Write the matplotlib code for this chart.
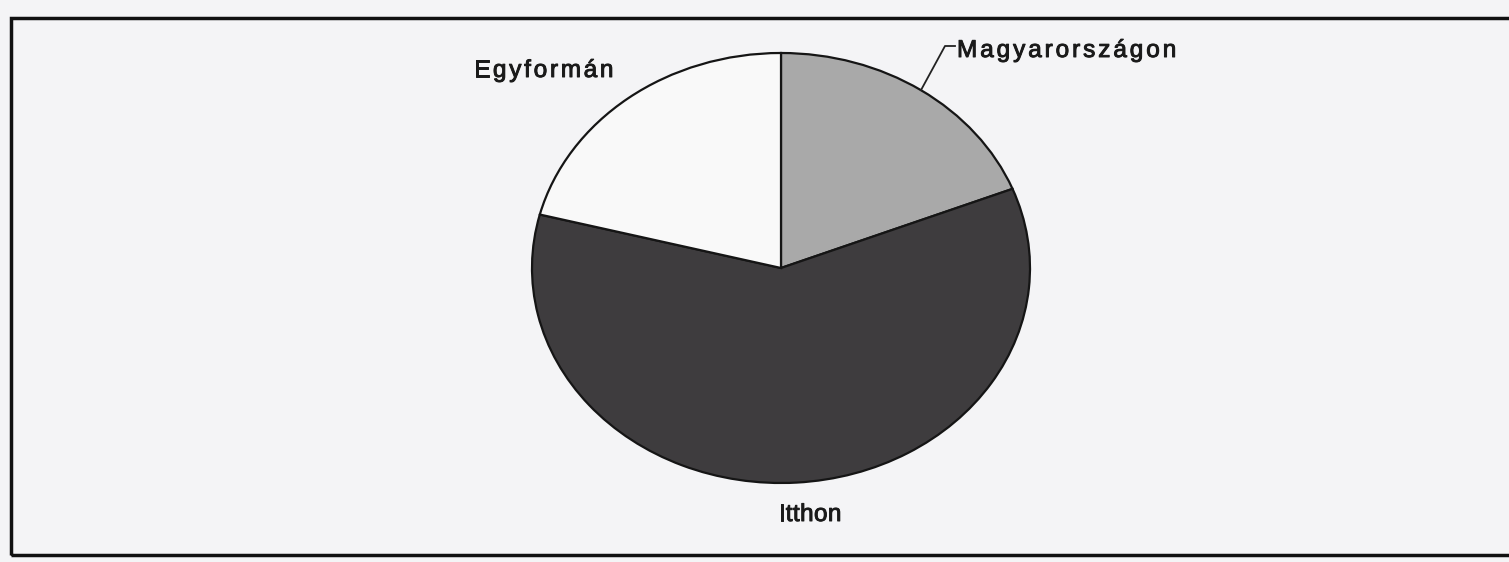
import numpy as np
import matplotlib
matplotlib.use("Agg")
import matplotlib.pyplot as plt
import matplotlib.patheffects as pe
from matplotlib.patches import Rectangle
from matplotlib.lines import Line2D
from matplotlib.font_manager import FontProperties

plt.rcParams['font.family'] = ['Liberation Sans', 'DejaVu Sans']

# data (shares, %)
labels = ["Magyarországon", "Itthon", "Egyformán"]
shares = [19, 60, 21]
colors = ["#a9a9a9", "#3e3c3e", "#f9f9f9"]

W, H = 1509, 562
fig = plt.figure(figsize=(W / 100, H / 100), dpi=100)
fig.patch.set_facecolor("#f4f4f6")

# outer frame (runs off the right side of the scan)
fig.patches.append(Rectangle((11 / W, (H - 555) / H), 1.2, (555 - 18) / H,
                             transform=fig.transFigure, fill=False,
                             edgecolor="#111111", linewidth=2.5))

# pie drawn as a flattened ellipse
cx, cy, rx, ry = 781, 268, 249, 215
ax = fig.add_axes([(cx - rx) / W, (H - cy - ry) / H, 2 * rx / W, 2 * ry / H])
wedges, _ = ax.pie(shares, colors=colors, startangle=90, counterclock=False,
                   radius=1, wedgeprops=dict(edgecolor="#151515", linewidth=1.6))
ax.set_xlim(-1, 1)
ax.set_ylim(-1, 1)
ax.set_aspect("auto")
ax.axis("off")

fp = FontProperties(family=['Liberation Sans'], size=17.5)
fig.canvas.draw()
renderer = fig.canvas.get_renderer()
thick = [pe.withStroke(linewidth=0.7, foreground="#1a1a1a")]


def spaced_text(x, y, s, sp, center=False):
    # the scan's labels are letter-spaced, so place glyph by glyph
    widths = [renderer.get_text_width_height_descent(s[:i], fp, ismath=False)[0]
              if i else 0 for i in range(len(s) + 1)]
    total = widths[-1] + sp * (len(s) - 1)
    if center:
        x = x - total / 2
    for i, ch in enumerate(s):
        fig.text(x + widths[i] + sp * i, y, ch, transform=None,
                 fontproperties=fp, ha="left", va="baseline", color="#1a1a1a",
                 path_effects=thick)


# Magyarországon: leader line to the middle of its wedge
w = wedges[0]
mid = np.deg2rad((w.theta1 + w.theta2) / 2)
px, py = ax.transData.transform((np.cos(mid), np.sin(mid)))
tx, ty = 955, H - 46
fig.add_artist(Line2D([tx, tx - 10, px], [ty, ty, py], transform=None,
                      color="#222222", linewidth=1.3))
spaced_text(tx + 2, H - 57, labels[0], sp=3.0)
spaced_text(810, H - 521, labels[1], sp=0.4, center=True)
spaced_text(474, H - 77, labels[2], sp=2.8)

fig.savefig("out.png", dpi=100, facecolor=fig.get_facecolor())
